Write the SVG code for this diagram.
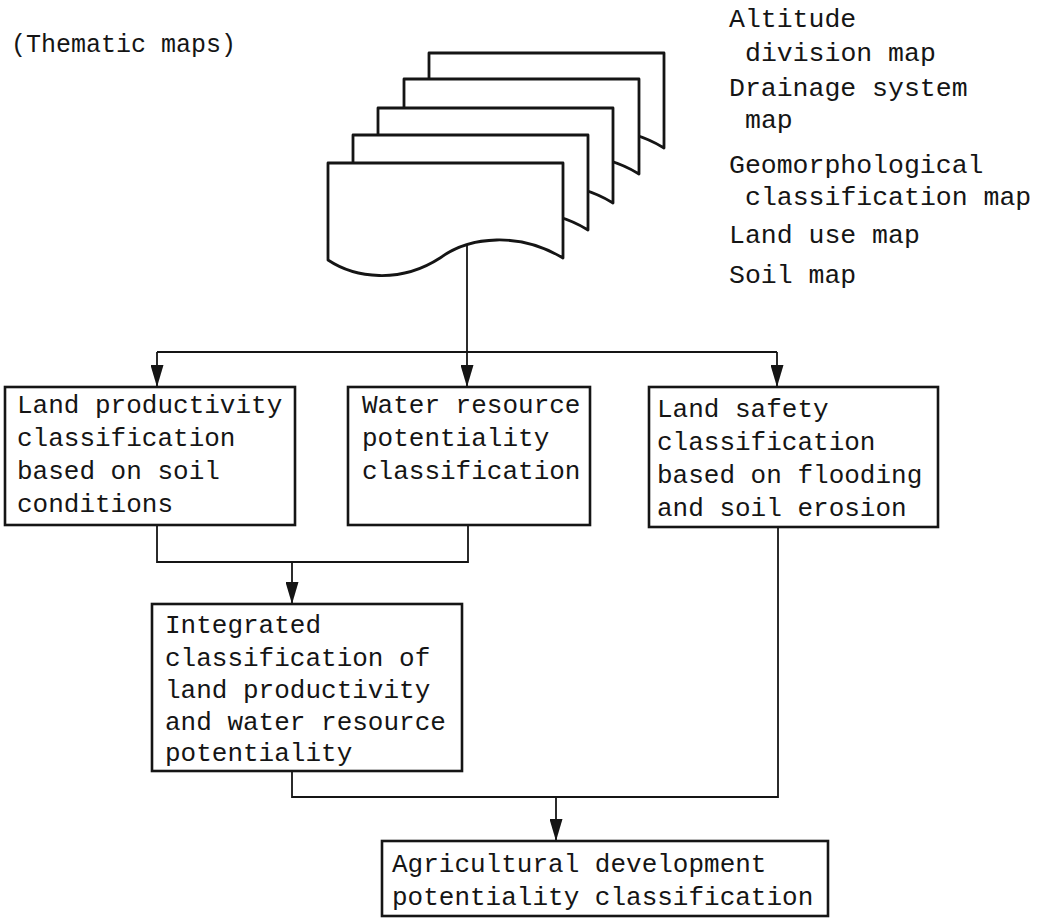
<svg xmlns="http://www.w3.org/2000/svg" xmlns:xlink="http://www.w3.org/1999/xlink" width="1054" height="918" viewBox="0 0 1054 918">
<style>
text{font-family:"Liberation Mono","DejaVu Sans Mono",monospace;font-size:26px;fill:#151515;}
.box{fill:#fff;stroke:#151515;stroke-width:2.6;}
.sheet{fill:#fff;stroke:#151515;stroke-width:2.8;stroke-linejoin:round;}
.conn{fill:none;stroke:#151515;stroke-width:1.8;}
.lbl{font-size:26.5px;}
</style>
<defs>
<marker id="arr" markerUnits="userSpaceOnUse" viewBox="0 0 22 13" markerWidth="22" markerHeight="13" refX="22" refY="6.5" orient="auto">
<path d="M0,0 L22,6.5 L0,13 Z" fill="#151515"/>
</marker>
<path id="sheetShape" class="sheet" d="M328,163 H563 V258 C520,232 470,236 440,258 C400,284 355,278 328,260 Z"/>
</defs>
<rect width="1054" height="918" fill="#fff"/>

<g id="thematic-title">
<text x="11" y="52" style="font-size:25px">(Thematic maps)</text>
</g>

<g id="map-stack">
<use xlink:href="#sheetShape" transform="translate(101,-110)"/>
<use xlink:href="#sheetShape" transform="translate(76,-84)"/>
<use xlink:href="#sheetShape" transform="translate(50,-55)"/>
<use xlink:href="#sheetShape" transform="translate(25,-28)"/>
<use xlink:href="#sheetShape"/>
</g>

<g id="map-list">
<text class="lbl" x="729" y="27">Altitude</text>
<text class="lbl" x="745" y="61">division map</text>
<text class="lbl" x="729" y="96">Drainage system</text>
<text class="lbl" x="745" y="128">map</text>
<text class="lbl" x="729" y="173">Geomorphological</text>
<text class="lbl" x="745" y="205">classification map</text>
<text class="lbl" x="729" y="243">Land use map</text>
<text class="lbl" x="729" y="283">Soil map</text>
</g>

<g id="connectors">
<path class="conn" d="M157,352 H777"/>
<path class="conn" d="M157,352 V387" marker-end="url(#arr)"/>
<path class="conn" d="M467,245 V387" marker-end="url(#arr)"/>
<path class="conn" d="M777,352 V387" marker-end="url(#arr)"/>
<path class="conn" d="M157,525 V562 H468 V525"/>
<path class="conn" d="M292,562 V604" marker-end="url(#arr)"/>
<path class="conn" d="M292,771 V797 H778 V527"/>
<path class="conn" d="M556,797 V841" marker-end="url(#arr)"/>
</g>

<g id="land-productivity">
<rect class="box" x="5" y="387" width="290" height="138"/>
<text x="17" y="413">Land productivity</text>
<text x="17" y="446">classification</text>
<text x="17" y="479">based on soil</text>
<text x="17" y="512">conditions</text>
</g>

<g id="water-resource">
<rect class="box" x="348" y="387" width="242" height="138"/>
<text x="362" y="413">Water resource</text>
<text x="362" y="446">potentiality</text>
<text x="362" y="479">classification</text>
</g>

<g id="land-safety">
<rect class="box" x="649" y="387" width="289" height="140"/>
<text x="657" y="417">Land safety</text>
<text x="657" y="450">classification</text>
<text x="657" y="483">based on flooding</text>
<text x="657" y="516">and soil erosion</text>
</g>

<g id="integrated">
<rect class="box" x="152" y="604" width="310" height="167"/>
<text x="165" y="633">Integrated</text>
<text x="165" y="666">classification of</text>
<text x="165" y="698">land productivity</text>
<text x="165" y="730">and water resource</text>
<text x="165" y="761">potentiality</text>
</g>

<g id="agricultural">
<rect class="box" x="382" y="841" width="446" height="75"/>
<text x="392" y="872">Agricultural development</text>
<text x="392" y="905">potentiality classification</text>
</g>
</svg>
